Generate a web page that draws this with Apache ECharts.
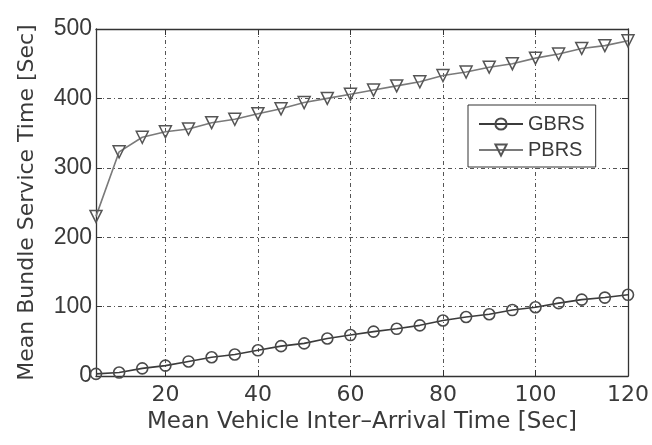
<!DOCTYPE html>
<html>
<head>
<meta charset="utf-8">
<script src="https://cdn.jsdelivr.net/npm/echarts@6/dist/echarts.min.js"></script>
<style>
html,body{margin:0;padding:0;background:#fff;}
#chart{width:652px;height:445px;}
</style>
</head>
<body>
<div id="chart"></div>
<script>
// Data
var xValues = [5, 10, 15, 20, 25, 30, 35, 40, 45, 50, 55, 60, 65, 70, 75, 80, 85, 90, 95, 100, 105, 110, 115, 120];
var gbrs = [3, 5, 11, 15, 21, 27, 31, 37, 43, 47, 54, 59, 64, 68, 73, 80, 85, 89, 95, 99, 105, 110, 113, 117];
var pbrs = [230, 323, 344, 352, 356, 365, 370, 378, 385, 394, 400, 406, 412, 418, 424, 433, 438, 445, 450, 458, 464, 472, 476, 483];
var xTicks = [20, 40, 60, 80, 100, 120];
var seriesNames = ['GBRS', 'PBRS'];
var xTitle = 'Mean Vehicle Inter\u2013Arrival Time [Sec]';
var yTitle = 'Mean Bundle Service Time [Sec]';

function pairs(xs, ys) {
  var out = [];
  for (var i = 0; i < xs.length; i++) out.push([xs[i], ys[i]]);
  return out;
}

var axisColor = '#333';
var textColor = '#3a3a3a';
var gridLine = { show: true, lineStyle: { color: '#555', width: 1, type: [4, 3, 1, 3] } };

var chart = echarts.init(document.getElementById('chart'));
chart.setOption({
  backgroundColor: '#ffffff',
  animation: false,
  grid: { left: 96, right: 24, top: 29, bottom: 69, containLabel: false },
  legend: {
    data: seriesNames,
    orient: 'vertical',
    left: 468, top: 105,
    padding: [9, 11, 7, 10],
    itemGap: 6,
    itemWidth: 44, itemHeight: 14,
    borderColor: '#333', borderWidth: 1,
    backgroundColor: '#fff',
    textStyle: { fontFamily: 'Liberation Sans', fontSize: 20, color: textColor }
  },
  xAxis: [{
    type: 'value', min: 5, max: 120, position: 'bottom',
    name: xTitle, nameLocation: 'middle', nameGap: 27,
    nameTextStyle: { fontFamily: 'DejaVu Sans', fontSize: 23, color: textColor },
    axisLine: { show: true, onZero: false, lineStyle: { color: axisColor, width: 1.3 } },
    axisTick: { show: true, inside: true, length: 6, customValues: xTicks, lineStyle: { color: axisColor } },
    axisLabel: { show: true, customValues: xTicks, margin: 8, fontFamily: 'DejaVu Sans', fontSize: 22, color: textColor },
    splitLine: gridLine
  }, {
    type: 'value', min: 5, max: 120, position: 'top',
    axisLine: { show: true, onZero: false, lineStyle: { color: axisColor, width: 1.3 } },
    axisTick: { show: true, inside: true, length: 6, customValues: xTicks, lineStyle: { color: axisColor } },
    axisLabel: { show: false },
    splitLine: { show: false }
  }],
  yAxis: [{
    type: 'value', min: 0, max: 500, interval: 100, position: 'left',
    name: yTitle, nameLocation: 'middle', nameGap: 58,
    nameTextStyle: { fontFamily: 'DejaVu Sans', fontSize: 22, color: textColor },
    axisLine: { show: true, onZero: false, lineStyle: { color: axisColor, width: 1.3 } },
    axisTick: { show: true, inside: true, length: 6, lineStyle: { color: axisColor } },
    axisLabel: { show: true, margin: 4, fontFamily: 'Liberation Sans', fontSize: 23, color: textColor },
    splitLine: gridLine
  }, {
    type: 'value', min: 0, max: 500, interval: 100, position: 'right',
    axisLine: { show: true, onZero: false, lineStyle: { color: axisColor, width: 1.3 } },
    axisTick: { show: true, inside: true, length: 6, lineStyle: { color: axisColor } },
    axisLabel: { show: false },
    splitLine: { show: false }
  }],
  series: [{
    name: seriesNames[0], type: 'line', xAxisIndex: 0, yAxisIndex: 0,
    data: pairs(xValues, gbrs),
    symbol: 'circle', symbolSize: 11, showAllSymbol: true,
    lineStyle: { color: '#3b3b3b', width: 1.6 },
    itemStyle: { color: 'rgba(255,255,255,0)', borderColor: '#4a4a4a', borderWidth: 1.6 },
    z: 3
  }, {
    name: seriesNames[1], type: 'line', xAxisIndex: 0, yAxisIndex: 0,
    data: pairs(xValues, pbrs),
    symbol: 'triangle', symbolRotate: 180, symbolSize: 12, showAllSymbol: true,
    lineStyle: { color: '#7a7a7a', width: 1.6 },
    itemStyle: { color: 'rgba(255,255,255,0)', borderColor: '#555', borderWidth: 1.5 },
    z: 3
  }]
});
</script>
</body>
</html>
